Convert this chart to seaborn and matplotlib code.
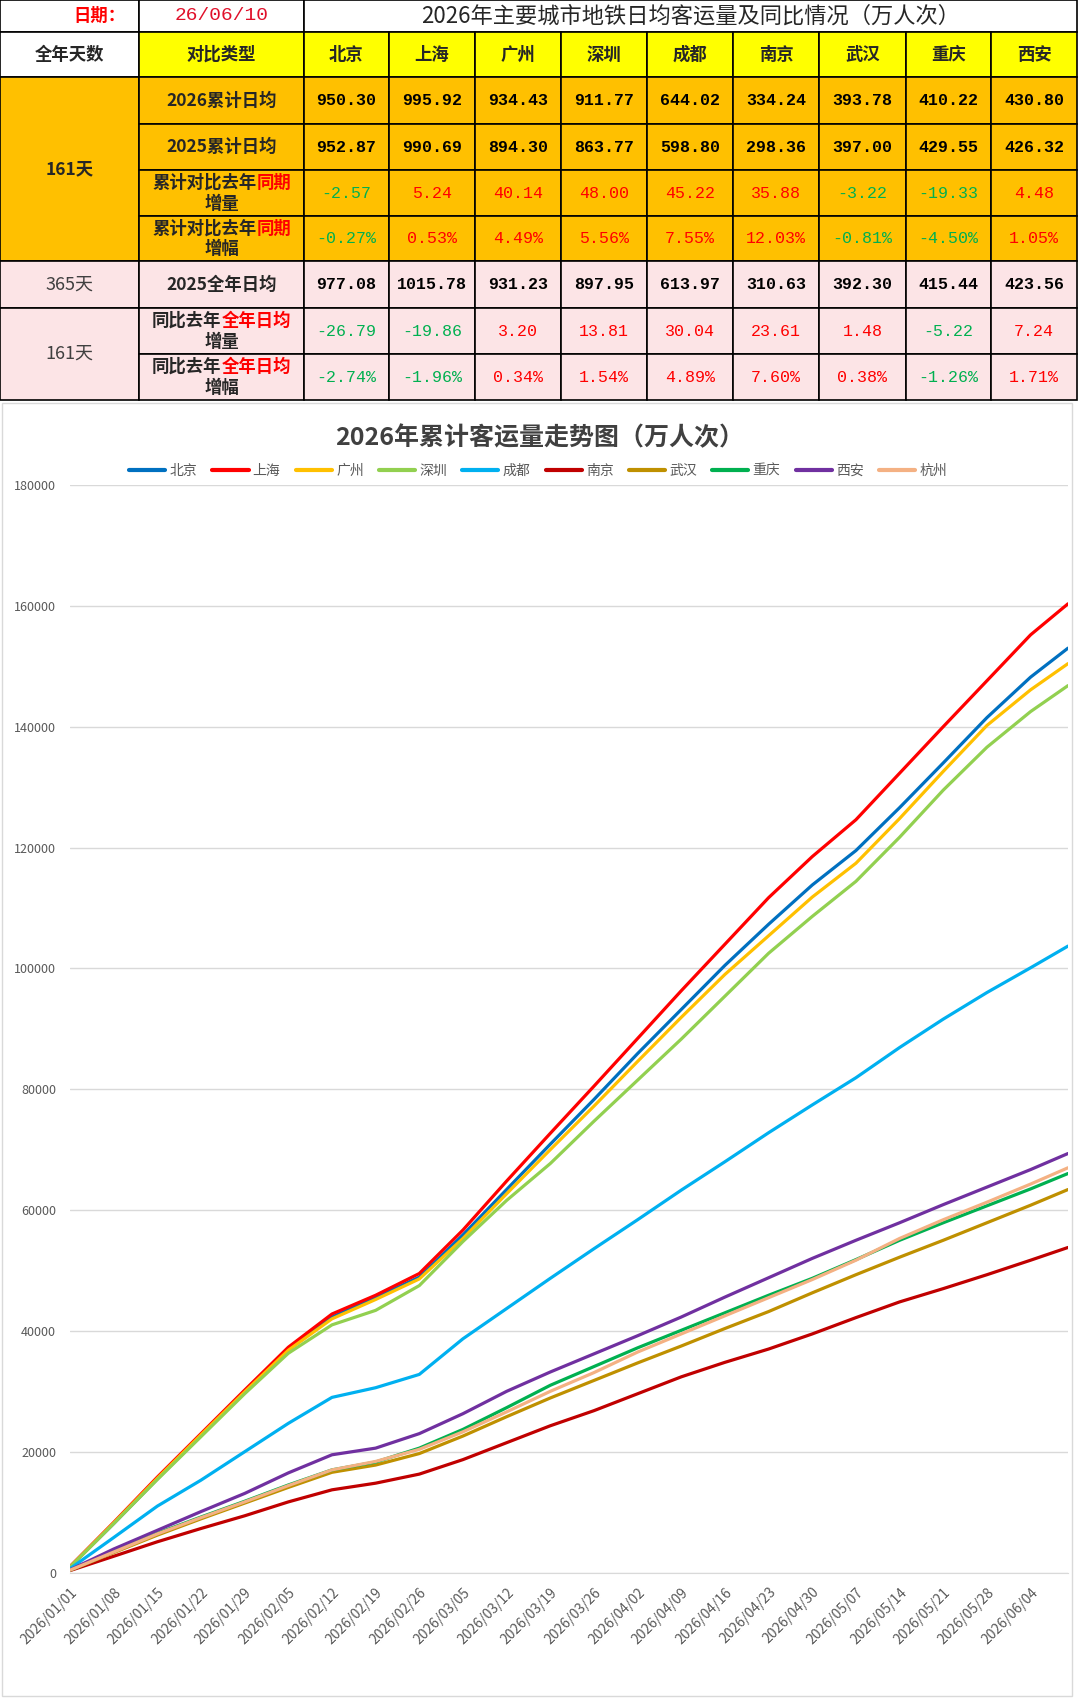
import pandas as pd
import numpy as np
import matplotlib
matplotlib.use('Agg')
import matplotlib.pyplot as plt
from matplotlib.patches import Rectangle
from matplotlib.lines import Line2D
import seaborn as sns

# ---------------- table data ----------------
report_date = '26/06/10'
table_title = '2026年主要城市地铁日均客运量及同比情况（万人次）'
table_cities = ['北京', '上海', '广州', '深圳', '成都', '南京', '武汉', '重庆', '西安']
avg_2026_cum = [950.30, 995.92, 934.43, 911.77, 644.02, 334.24, 393.78, 410.22, 430.80]
avg_2025_cum = [952.87, 990.69, 894.30, 863.77, 598.80, 298.36, 397.00, 429.55, 426.32]
diff_cum = [-2.57, 5.24, 40.14, 48.00, 45.22, 35.88, -3.22, -19.33, 4.48]
pct_cum = [-0.27, 0.53, 4.49, 5.56, 7.55, 12.03, -0.81, -4.50, 1.05]
avg_2025_full = [977.08, 1015.78, 931.23, 897.95, 613.97, 310.63, 392.30, 415.44, 423.56]
diff_full = [-26.79, -19.86, 3.20, 13.81, 30.04, 23.61, 1.48, -5.22, 7.24]
pct_full = [-2.74, -1.96, 0.34, 1.54, 4.89, 7.60, 0.38, -1.26, 1.71]

# ---------------- chart data (cumulative, 万人次) ----------------
chart_title = '2026年累计客运量走势图（万人次）'
dates = ['2026-01-01', '2026-01-08', '2026-01-15', '2026-01-22', '2026-01-29', '2026-02-05',
         '2026-02-12', '2026-02-19', '2026-02-26', '2026-03-05', '2026-03-12', '2026-03-19',
         '2026-03-26', '2026-04-02', '2026-04-09', '2026-04-16', '2026-04-23', '2026-04-30',
         '2026-05-07', '2026-05-14', '2026-05-21', '2026-05-28', '2026-06-04', '2026-06-10']
beijing = [950, 8100, 15500, 22700, 29900, 36900, 42300, 45500, 48900, 55900, 63400, 70900,
           78300, 85900, 93200, 100500, 107300, 113800, 119500, 126600, 134000, 141500, 148200, 153000]
shanghai = [1000, 8300, 15800, 23000, 30200, 37300, 42800, 45900, 49500, 56700, 64800, 72700,
            80500, 88400, 96300, 104000, 111700, 118500, 124600, 132300, 140000, 147600, 155200, 160340]
guangzhou = [930, 8200, 15600, 22800, 29900, 36800, 42000, 45200, 48600, 55300, 62700, 70000,
             77200, 84600, 91900, 99000, 105400, 111800, 117400, 124800, 132600, 140200, 146100, 150440]
shenzhen = [900, 8100, 15400, 22500, 29600, 36300, 41000, 43400, 47500, 54800, 61600, 67700,
            74700, 81500, 88300, 95400, 102500, 108600, 114400, 121700, 129500, 136600, 142500, 146800]
chengdu = [650, 5800, 11000, 15300, 20000, 24700, 29000, 30600, 32800, 38700, 43700, 48700,
           53600, 58400, 63300, 68000, 72800, 77400, 81900, 86900, 91600, 96000, 100100, 103690]
nanjing = [330, 2700, 5100, 7300, 9400, 11700, 13700, 14800, 16300, 18700, 21500, 24300,
           26800, 29600, 32400, 34800, 37000, 39500, 42200, 44800, 47000, 49300, 51700, 53810]
wuhan = [390, 3300, 6200, 8900, 11500, 14100, 16600, 17800, 19700, 22600, 25800, 28900,
         31800, 34700, 37500, 40400, 43200, 46300, 49300, 52200, 55000, 57900, 60800, 63400]
chongqing = [420, 3500, 6500, 9200, 11800, 14500, 17000, 18300, 20600, 23700, 27300, 31000,
             34100, 37200, 40100, 43000, 45900, 48700, 51800, 55000, 57900, 60700, 63500, 66050]
xian = [450, 3900, 7000, 10100, 13100, 16500, 19500, 20600, 23000, 26300, 30000, 33200,
        36200, 39200, 42300, 45600, 48800, 52000, 55000, 57900, 60900, 63800, 66700, 69360]
hangzhou = [400, 3400, 6400, 9100, 11700, 14400, 17000, 18400, 20400, 23300, 26600, 30000,
            33100, 36500, 39500, 42500, 45500, 48500, 51700, 55300, 58400, 61300, 64300, 67000]

chart_cities = ['北京', '上海', '广州', '深圳', '成都', '南京', '武汉', '重庆', '西安', '杭州']
series = [beijing, shanghai, guangzhou, shenzhen, chengdu, nanjing, wuhan, chongqing, xian, hangzhou]
line_colors = ['#0070C0', '#FF0000', '#FFC000', '#92D050', '#00B0F0',
               '#C00000', '#BF9000', '#00B050', '#7030A0', '#F4B183']

# ---------------- style ----------------
sns.set_style('white')
plt.rcParams['font.family'] = ['Noto Sans CJK SC', 'DejaVu Sans']

W, H = 1078, 1700
fig = plt.figure(figsize=(W / 100, H / 100), dpi=100)
fig.patch.set_facecolor('white')

RED = '#FF0000'
GREEN = '#00B050'
YELLOW = '#FFFF00'
ORANGE = '#FFC000'
PINK = '#FCE4E6'
FS = 12.5
EM = FS * 100 / 72
NUM_FONT = 'Liberation Mono'

# ---------------- table (pixel coordinates) ----------------
TH = 401
ax_t = fig.add_axes([0, 1 - TH / H, 1, TH / H])
ax_t.set_xlim(0, W)
ax_t.set_ylim(TH, 0)
ax_t.axis('off')

col_edges = [0, 139, 304, 389, 475, 561, 647, 733, 819, 906, 991, 1077]
row_edges = [0, 32, 77, 124, 170, 216, 261, 308, 354, 400]


def cell(x0, x1, y0, y1, fc):
    ax_t.add_patch(Rectangle((x0, y0), x1 - x0, y1 - y0, facecolor=fc,
                             edgecolor='black', linewidth=1.2))


def cx(i):
    return (col_edges[i] + col_edges[i + 1]) / 2


def cy(r):
    return (row_edges[r] + row_edges[r + 1]) / 2


# row 0: date + title
cell(col_edges[0], col_edges[1], row_edges[0], row_edges[1], 'white')
cell(col_edges[1], col_edges[2], row_edges[0], row_edges[1], 'white')
cell(col_edges[2], col_edges[-1], row_edges[0], row_edges[1], 'white')
ax_t.text(col_edges[1] - 14, cy(0), '日期：', ha='right', va='center', color=RED,
          fontsize=12.5, weight='bold')
ax_t.text(cx(1), cy(0), report_date, ha='center', va='center', color='#E0102A',
          fontsize=14, family=NUM_FONT)
ax_t.text((col_edges[2] + col_edges[-1]) / 2, cy(0), table_title, ha='center',
          va='center', color='#262626', fontsize=16)

# row 1: header
cell(col_edges[0], col_edges[1], row_edges[1], row_edges[2], 'white')
ax_t.text(cx(0), cy(1), '全年天数', ha='center', va='center', fontsize=FS, weight='bold')
cell(col_edges[1], col_edges[2], row_edges[1], row_edges[2], YELLOW)
ax_t.text(cx(1), cy(1), '对比类型', ha='center', va='center', fontsize=FS, weight='bold')
for i, c in enumerate(table_cities):
    cell(col_edges[i + 2], col_edges[i + 3], row_edges[1], row_edges[2], YELLOW)
    ax_t.text(cx(i + 2), cy(1), c, ha='center', va='center', fontsize=FS, weight='bold')

# merged day cells
cell(col_edges[0], col_edges[1], row_edges[2], row_edges[6], ORANGE)
ax_t.text(cx(0), (row_edges[2] + row_edges[6]) / 2, '161天', ha='center', va='center',
          fontsize=FS, weight='bold')
cell(col_edges[0], col_edges[1], row_edges[6], row_edges[7], PINK)
ax_t.text(cx(0), cy(6), '365天', ha='center', va='center', fontsize=FS + 0.5, color='#404040')
cell(col_edges[0], col_edges[1], row_edges[7], row_edges[9], PINK)
ax_t.text(cx(0), (row_edges[7] + row_edges[9]) / 2, '161天', ha='center', va='center',
          fontsize=FS + 0.5, color='#404040')

row_labels = ['2026累计日均', '2025累计日均', ('累计对比去年', '同期', '增量'),
              ('累计对比去年', '同期', '增幅'), '2025全年日均',
              ('同比去年', '全年日均', '增量'), ('同比去年', '全年日均', '增幅')]
row_values = [avg_2026_cum, avg_2025_cum, diff_cum, pct_cum, avg_2025_full, diff_full, pct_full]
row_pct = [False, False, False, True, False, False, True]
row_colored = [False, False, True, True, False, True, True]
row_fill = [ORANGE] * 4 + [PINK] * 3

for k, (lab, vals) in enumerate(zip(row_labels, row_values)):
    r = k + 2
    fc = row_fill[k]
    cell(col_edges[1], col_edges[2], row_edges[r], row_edges[r + 1], fc)
    if isinstance(lab, str):
        ax_t.text(cx(1), cy(r), lab, ha='center', va='center', fontsize=FS, weight='bold')
    else:
        black, red, second = lab
        x0 = cx(1) - (len(black) + len(red)) * EM / 2
        ax_t.text(x0, cy(r) - 10, black, ha='left', va='center', fontsize=FS, weight='bold')
        ax_t.text(x0 + len(black) * EM, cy(r) - 10, red, ha='left', va='center',
                  fontsize=FS, weight='bold', color=RED)
        ax_t.text(cx(1), cy(r) + 11, second, ha='center', va='center', fontsize=FS, weight='bold')
    for i, v in enumerate(vals):
        cell(col_edges[i + 2], col_edges[i + 3], row_edges[r], row_edges[r + 1], fc)
        txt = f'{v:.2f}%' if row_pct[k] else f'{v:.2f}'
        if row_colored[k]:
            color = RED if v > 0 else GREEN
            weight = 'normal'
        else:
            color = 'black'
            weight = 'bold'
        ax_t.text(cx(i + 2), cy(r), txt, ha='center', va='center', fontsize=12,
                  family=NUM_FONT, weight=weight, color=color)

# ---------------- line chart ----------------
rows = []
for city, vals in zip(chart_cities, series):
    for d, v in zip(dates, vals):
        rows.append({'date': pd.Timestamp(d), 'city': city, 'value': v})
df = pd.DataFrame(rows)

y0_px, y1_px = 1572.6, 485
x0_px, x1_px = 70, 1068
ax = fig.add_axes([x0_px / W, 1 - y0_px / H, (x1_px - x0_px) / W, (y0_px - y1_px) / H])
sns.lineplot(data=df, x='date', y='value', hue='city', hue_order=chart_cities,
             palette=line_colors, linewidth=2.3, ax=ax, legend=False)

ax.set_xlim(pd.Timestamp(dates[0]), pd.Timestamp(dates[-1]))
ax.set_ylim(0, 180000)
ax.set_yticks(np.arange(0, 180001, 20000))
ax.set_yticklabels([str(v) for v in range(0, 180001, 20000)])
tick_dates = [pd.Timestamp(d) for d in dates[:-1]]
ax.set_xticks(tick_dates)
ax.set_xticklabels([d.strftime('%Y/%m/%d') for d in tick_dates], rotation=45,
                   ha='right', rotation_mode='anchor')
ax.set_xlabel('')
ax.set_ylabel('')
ax.yaxis.grid(True, color='#D9D9D9', linewidth=1)
ax.xaxis.grid(False)
ax.set_axisbelow(True)
for s in ['left', 'right', 'top']:
    ax.spines[s].set_visible(False)
ax.spines['bottom'].set_color('#D9D9D9')
ax.tick_params(axis='y', length=0, pad=10, labelsize=9, labelcolor='#595959')
ax.tick_params(axis='x', length=5, color='#BFBFBF', direction='out', pad=4,
               labelsize=10, labelcolor='#595959')

fig.text(540 / W, 1 - 438 / H, chart_title, ha='center', va='center', fontsize=18,
         weight='bold', color='#404040')

handles = [Line2D([0], [0], color=c, linewidth=3) for c in line_colors]
leg = fig.legend(handles=handles, labels=chart_cities, loc='center',
                 bbox_to_anchor=(538 / W, 1 - 471 / H), ncol=10, frameon=False,
                 fontsize=10, handlelength=2.6, columnspacing=1.1, handletextpad=0.3)
for t in leg.get_texts():
    t.set_color('#595959')

fig.patches.append(Rectangle((2 / W, 1 - 1696 / H), 1070 / W, 1293 / H, fill=False,
                             edgecolor='#D9D9D9', linewidth=1, transform=fig.transFigure))

fig.savefig('out.png', dpi=100, facecolor='white')
